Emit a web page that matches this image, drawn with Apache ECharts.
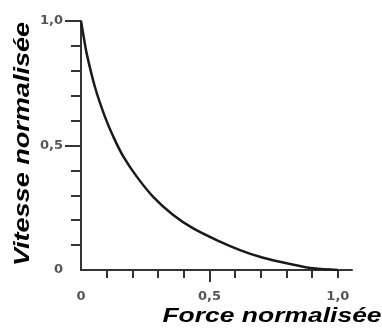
<!DOCTYPE html>
<html>
<head>
<meta charset="utf-8">
<script src="https://cdn.jsdelivr.net/npm/echarts@6/dist/echarts.min.js"></script>
<style>
html,body{margin:0;padding:0;background:#fff;}
#chart{width:382px;height:331px;}
</style>
</head>
<body>
<div id="chart"></div>
<script>
// Data
var force = [0, 0.01, 0.022, 0.054, 0.093, 0.126, 0.165, 0.217, 0.281, 0.359, 0.437, 0.541, 0.619, 0.696, 0.774, 0.852, 0.903, 1.0];
var vitesse = [1.0, 0.94, 0.87, 0.736, 0.616, 0.535, 0.455, 0.375, 0.294, 0.221, 0.167, 0.114, 0.080, 0.053, 0.033, 0.016, 0.007, 0];
var xTickLabels = [0, 0.5, 1.0];
var yTickLabels = [0, 0.5, 1.0];
var xMajorTicks = [0.5];
var xMinorTicks = [0.1, 0.2, 0.3, 0.4, 0.6, 0.7, 0.8, 0.9, 1.0];
var yMajorTicks = [0.5, 1.0];
var yMinorTicks = [0.1, 0.2, 0.3, 0.4, 0.6, 0.7, 0.8, 0.9];
var xTitle = 'Force normalisée';
var yTitle = 'Vitesse normalisée';

var points = force.map(function (f, i) { return [f, vitesse[i]]; });
function fmt(v) { return v === 0 ? '0' : v.toFixed(1).replace('.', ','); }

var labelStyle = { fontFamily: 'DejaVu Sans', fontSize: 13, fontWeight: 'bold', color: '#555' };
var lineColor = '#333';
var gridPos = { left: 81, top: 21, width: 271, height: 249 };
var titleFont = { fontFamily: 'Liberation Sans', fontWeight: 'bold', fontStyle: 'italic', fill: '#000', align: 'center', verticalAlign: 'middle' };

var chart = echarts.init(document.getElementById('chart'), null, { renderer: 'canvas' });
chart.setOption({
  animation: false,
  grid: [
    Object.assign({ containLabel: false }, gridPos),
    Object.assign({ containLabel: false }, gridPos)
  ],
  xAxis: [
    {
      type: 'value', gridIndex: 0, min: 0, max: 1.055,
      splitLine: { show: false },
      axisLine: { show: true, lineStyle: { color: lineColor, width: 2 } },
      axisTick: { show: true, customValues: xMajorTicks, length: 12, lineStyle: { color: lineColor, width: 2 } },
      axisLabel: Object.assign({ customValues: xTickLabels, margin: 20, formatter: fmt }, labelStyle)
    },
    {
      type: 'value', gridIndex: 1, min: 0, max: 1.055,
      splitLine: { show: false },
      axisLine: { show: false },
      axisTick: { show: true, customValues: xMinorTicks, length: 8, lineStyle: { color: lineColor, width: 2 } },
      axisLabel: { show: false }
    }
  ],
  yAxis: [
    {
      type: 'value', gridIndex: 0, min: 0, max: 1,
      splitLine: { show: false },
      axisLine: { show: true, lineStyle: { color: lineColor, width: 2 } },
      axisTick: { show: true, customValues: yMajorTicks, length: 16, lineStyle: { color: lineColor, width: 2 } },
      axisLabel: Object.assign({ customValues: yTickLabels, margin: 18, formatter: fmt, padding: [0, 0, 6, 0] }, labelStyle)
    },
    {
      type: 'value', gridIndex: 1, min: 0, max: 1,
      splitLine: { show: false },
      axisLine: { show: false },
      axisTick: { show: true, customValues: yMinorTicks, length: 10, lineStyle: { color: lineColor, width: 2 } },
      axisLabel: { show: false }
    }
  ],
  series: [{
    type: 'line', xAxisIndex: 0, yAxisIndex: 0,
    data: points, smooth: 0.35, symbol: 'none',
    lineStyle: { color: '#1a1a1a', width: 2.5 }
  }],
  graphic: [
    {
      type: 'text', x: 23, y: 144, rotation: Math.PI / 2, scaleX: 1.23,
      style: Object.assign({ text: yTitle, fontSize: 22 }, titleFont)
    },
    {
      type: 'text', x: 272, y: 316, scaleX: 1.26,
      style: Object.assign({ text: xTitle, fontSize: 21 }, titleFont)
    }
  ]
});
</script>
</body>
</html>
